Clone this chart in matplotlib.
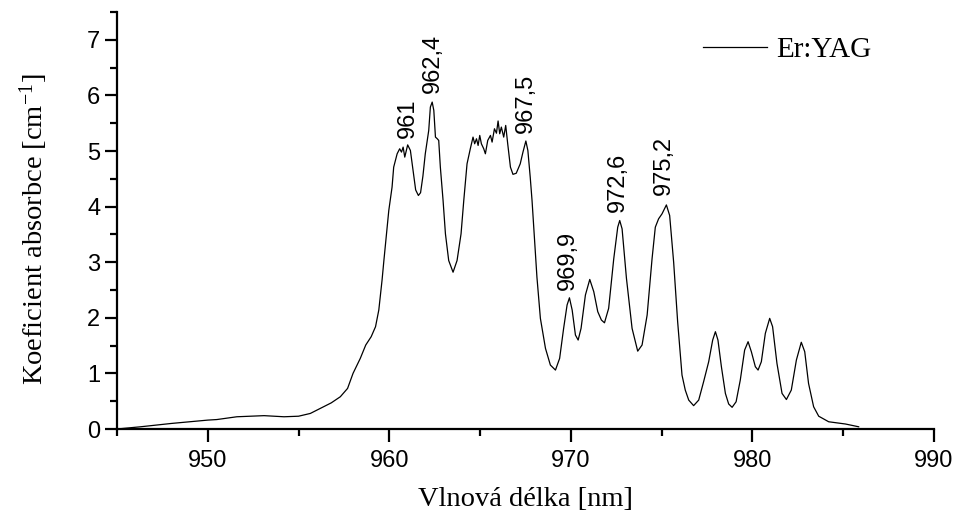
import matplotlib
matplotlib.use("Agg")
import matplotlib.pyplot as plt
from matplotlib.ticker import MultipleLocator

# absorption spectrum Er:YAG
wavelength = [
    945.0, 946.3, 948.0, 950.0, 950.5, 951.6, 953.1, 954.2, 955.0, 955.65,
    956.2, 956.8, 957.3, 957.7, 958.0, 958.4, 958.7, 959.0, 959.24, 959.42,
    959.6, 959.7, 959.97, 960.15, 960.24, 960.43, 960.57, 960.67, 960.76, 960.85,
    961.01, 961.16, 961.31, 961.45, 961.6, 961.72, 961.85, 961.98, 962.17, 962.26,
    962.36, 962.45, 962.54, 962.64, 962.72, 962.81, 962.96, 963.09, 963.27, 963.51,
    963.73, 963.95, 964.1, 964.28, 964.46, 964.61, 964.7, 964.8, 964.89, 964.98,
    965.07, 965.2, 965.29, 965.42, 965.57, 965.66, 965.79, 965.9, 965.99, 966.08,
    966.17, 966.3, 966.41, 966.52, 966.67, 966.81, 966.99, 967.21, 967.36, 967.52,
    967.63, 967.76, 967.86, 968.13, 968.32, 968.6, 968.87, 969.15, 969.38, 969.6,
    969.79, 969.92, 970.07, 970.25, 970.4, 970.56, 970.8, 971.04, 971.26, 971.48,
    971.68, 971.85, 972.08, 972.36, 972.58, 972.69, 972.82, 973.06, 973.37, 973.68,
    973.92, 974.2, 974.47, 974.65, 974.83, 975.02, 975.26, 975.44, 975.66, 975.88,
    976.12, 976.3, 976.49, 976.76, 977.04, 977.31, 977.59, 977.81, 977.96, 978.1,
    978.29, 978.51, 978.69, 978.88, 979.1, 979.33, 979.57, 979.76, 979.94, 980.16,
    980.31, 980.49, 980.71, 980.95, 981.11, 981.35, 981.63, 981.87, 982.14, 982.42,
    982.69, 982.88, 983.09, 983.37, 983.65, 984.2, 985.12, 985.85,
]
absorbance = [
    0.0, 0.04, 0.10, 0.16, 0.17, 0.22, 0.24, 0.22, 0.23, 0.28,
    0.37, 0.47, 0.58, 0.73, 1.00, 1.27, 1.51, 1.66, 1.84, 2.14,
    2.68, 3.03, 3.93, 4.35, 4.71, 4.95, 5.04, 4.98, 5.07, 4.89,
    5.11, 5.01, 4.65, 4.30, 4.20, 4.25, 4.55, 4.95, 5.37, 5.79,
    5.88, 5.73, 5.25, 5.22, 5.19, 4.71, 4.11, 3.51, 3.03, 2.82,
    3.03, 3.51, 4.11, 4.77, 5.04, 5.25, 5.13, 5.22, 5.10, 5.28,
    5.13, 5.04, 4.95, 5.19, 5.28, 5.16, 5.40, 5.32, 5.54, 5.31,
    5.43, 5.25, 5.46, 5.13, 4.71, 4.58, 4.60, 4.77, 4.98, 5.18,
    5.01, 4.53, 4.11, 2.73, 1.99, 1.45, 1.15, 1.06, 1.27, 1.81,
    2.23, 2.36, 2.14, 1.69, 1.60, 1.81, 2.41, 2.69, 2.47, 2.11,
    1.96, 1.91, 2.17, 3.06, 3.63, 3.75, 3.60, 2.71, 1.81, 1.40,
    1.51, 2.05, 3.06, 3.63, 3.78, 3.87, 4.03, 3.84, 3.00, 1.93,
    0.97, 0.70, 0.52, 0.42, 0.52, 0.85, 1.21, 1.60, 1.75, 1.60,
    1.12, 0.64, 0.45, 0.39, 0.49, 0.88, 1.42, 1.57, 1.39, 1.12,
    1.06, 1.21, 1.72, 1.99, 1.84, 1.18, 0.64, 0.53, 0.70, 1.24,
    1.56, 1.39, 0.82, 0.40, 0.23, 0.13, 0.09, 0.04,
]

peak_labels = ["961", "962,4", "967,5", "969,9", "972,6", "975,2"]
peak_x = [961.0, 962.4, 967.5, 969.86, 972.6, 975.1]
peak_y = [5.24, 6.05, 5.33, 2.50, 3.90, 4.20]

serif = "Liberation Serif"
sans = "Liberation Sans"
plt.rcParams["mathtext.fontset"] = "custom"
plt.rcParams["mathtext.rm"] = serif
plt.rcParams["mathtext.it"] = serif

fig = plt.figure(figsize=(9.57, 5.25), dpi=100)
ax = fig.add_axes([117 / 957, 1 - 429 / 525, 817 / 957, 417 / 525])

ax.plot(wavelength, absorbance, color="black", lw=0.9, label="Er:YAG")

for lab, x, y in zip(peak_labels, peak_x, peak_y):
    ax.text(x, y, lab, rotation=90, ha="center", va="bottom",
            fontsize=17, family=sans)

ax.set_xlim(945, 990)
ax.set_ylim(0, 7.5)
ax.xaxis.set_major_locator(MultipleLocator(10))
ax.xaxis.set_minor_locator(MultipleLocator(5))
ax.yaxis.set_major_locator(MultipleLocator(1))
ax.yaxis.set_minor_locator(MultipleLocator(0.5))

for side in ["top", "right"]:
    ax.spines[side].set_visible(False)
for side in ["left", "bottom"]:
    ax.spines[side].set_linewidth(1.6)

ax.tick_params(which="major", direction="out", length=9, width=1.6)
ax.tick_params(which="minor", direction="out", length=5, width=1.6)
ax.tick_params(axis="x", which="major", pad=6)
ax.tick_params(axis="y", which="major", pad=3)
for lbl in ax.get_xticklabels() + ax.get_yticklabels():
    lbl.set_fontfamily(sans)
    lbl.set_fontsize(17)

ax.set_xlabel("Vlnová délka [nm]", family=serif, fontsize=20.5)
ax.set_ylabel("Koeficient absorbce [cm$^{-1}$]", family=serif, fontsize=20.5)
ax.xaxis.set_label_coords(0.5, -0.14)
ax.yaxis.set_label_coords(-0.082, 0.48)

leg = ax.legend(loc="center left", bbox_to_anchor=(703 / 957, 1 - 50 / 525),
                bbox_transform=fig.transFigure, frameon=False, borderpad=0,
                borderaxespad=0, handlelength=2.2, handletextpad=0.3,
                prop={"family": serif, "size": 21})

fig.savefig("out.png", dpi=100)
